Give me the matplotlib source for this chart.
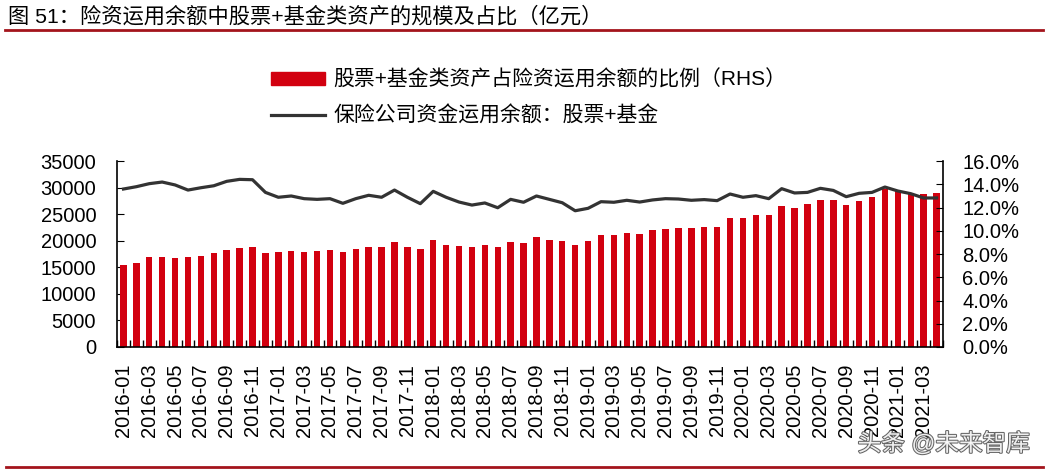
import numpy as np
import matplotlib
matplotlib.use('Agg')
import matplotlib.pyplot as plt
from matplotlib.patches import Patch
from matplotlib.lines import Line2D
from matplotlib import patheffects

plt.rcParams['font.family'] = ['Liberation Sans', 'Noto Sans CJK SC', 'DejaVu Sans']

# 月份 2016-01 ~ 2021-04
months = [f"{y}-{m:02d}" for y in range(2016, 2022) for m in range(1, 13)][:64]

# 股票+基金规模（亿元，左轴）
scale = [15430, 15870, 16880, 17000, 16810, 17000, 17190, 17630, 18260, 18570,
         18880, 17750, 17880, 18000, 17940, 18000, 18260, 17940, 18440, 18820,
         18880, 19820, 18820, 18380, 20140, 19200, 19010, 18760, 19200, 18820,
         19820, 19510, 20640, 20070, 19890, 19200, 20010, 21010, 21140, 21390,
         21200, 21960, 22140, 22330, 22390, 22530, 22530, 24340, 24340, 24840,
         24840, 26600, 26100, 26850, 27600, 27660, 26790, 27480, 28230, 29800,
         29420, 28920, 28730, 29040]

# 占比（%，右轴）
ratio = [13.59, 13.79, 14.05, 14.19, 13.94, 13.50, 13.70, 13.87, 14.25, 14.42,
         14.39, 13.30, 12.88, 12.99, 12.76, 12.70, 12.76, 12.36, 12.76, 13.05,
         12.88, 13.50, 12.88, 12.33, 13.39, 12.88, 12.47, 12.21, 12.39, 11.98,
         12.70, 12.45, 12.99, 12.70, 12.41, 11.72, 11.93, 12.50, 12.45, 12.62,
         12.47, 12.65, 12.76, 12.73, 12.62, 12.68, 12.59, 13.16, 12.88, 13.02,
         12.76, 13.62, 13.25, 13.30, 13.65, 13.47, 12.93, 13.22, 13.30, 13.76,
         13.42, 13.19, 12.82, 12.82]

bar_label = '股票+基金类资产占险资运用余额的比例（RHS）'
line_label = '保险公司资金运用余额：股票+基金'
title = '图 51：险资运用余额中股票+基金类资产的规模及占比（亿元）'

BAR_C = '#D2000F'
LINE_C = '#333333'
RULE_C = '#A3141C'
FS = 14.5

fig = plt.figure(figsize=(10.49, 4.72), dpi=100)
ax = fig.add_axes([117 / 1049, 1 - 347 / 472, (943 - 117) / 1049, (347 - 161) / 472])
ax2 = ax.twinx()

x = np.arange(len(months))
ax.bar(x, scale, width=0.5, color=BAR_C, zorder=2)
ax2.plot(x, ratio, color=LINE_C, lw=2.3, zorder=3)

ax.set_xlim(-0.5, len(months) - 0.5)
ax.set_ylim(0, 35000)
ax.set_yticks(np.arange(0, 35001, 5000))
ax2.set_ylim(0, 16)
ax2.set_yticks(np.arange(0, 16.1, 2))
ax2.set_yticklabels([f'{v:.1f}%' for v in np.arange(0, 16.1, 2)])

ax.set_xticks(x[::2])
ax.set_xticklabels(months[::2], rotation=90)
ax.set_xticks(np.arange(-0.5, len(months)), minor=True)
ax.tick_params(axis='x', which='major', length=0, pad=12, labelsize=FS)
ax.tick_params(axis='x', which='minor', length=5, direction='in', width=1)
ax.tick_params(axis='y', direction='in', length=5, pad=15, labelsize=FS)
ax2.tick_params(axis='y', direction='in', length=5, pad=14, labelsize=FS)

for a in (ax, ax2):
    a.spines['top'].set_visible(False)
    for s in ('left', 'right', 'bottom'):
        a.spines[s].set_linewidth(1.2)
ax.spines['right'].set_visible(False)
ax2.spines['left'].set_visible(False)
ax2.spines['bottom'].set_visible(False)

handles = [Patch(color=BAR_C), Line2D([0], [0], color=LINE_C, lw=2.3)]
fig.legend(handles, [bar_label, line_label], loc='upper left',
           bbox_to_anchor=(252 / 1049, 1 - 51 / 472), frameon=False,
           fontsize=15, handlelength=2.6, handleheight=0.6, labelspacing=0.75,
           handletextpad=0.4)

fig.text(8 / 1049, 1 - 16 / 472, title, fontsize=15.3, va='center', ha='left')
fig.add_artist(Line2D([5 / 1049, 1043 / 1049], [1 - 30 / 472] * 2, color=RULE_C, lw=2))
fig.add_artist(Line2D([6 / 1049, 1043 / 1049], [1 - 467 / 472] * 2, color=RULE_C, lw=2))

wm = fig.text(1030 / 1049, 1 - 444 / 472, '头条 @未来智库', fontsize=17, color='white',
              ha='right', va='center', alpha=0.9)
wm.set_path_effects([patheffects.withStroke(linewidth=1.5, foreground='#555555')])

fig.savefig('out.png', dpi=100)
